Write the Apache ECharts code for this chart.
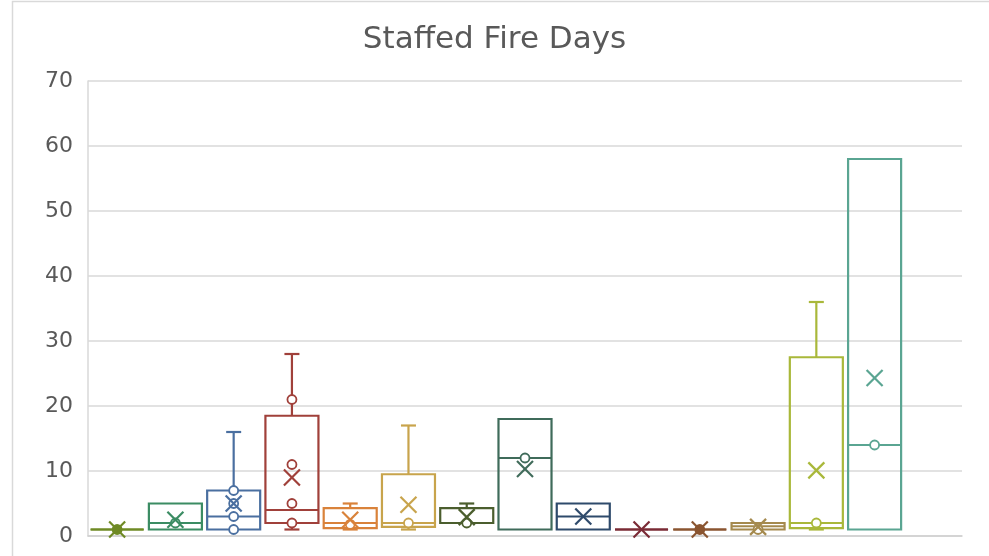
<!DOCTYPE html>
<html>
<head>
<meta charset="utf-8">
<script src="https://cdn.jsdelivr.net/npm/echarts@6/dist/echarts.min.js"></script>
<style>
  html, body { margin: 0; padding: 0; background: #fff; }
  #chart { width: 989px; height: 556px; }
</style>
</head>
<body>
<div id="chart"></div>
<script>
// ---- data ----
const categories = ['1','2','3','4','5','6','7','8','9','10','11','12','13','14',''];
const mins    = [1, 1, 1,  1,    1,   1,   2,   1,    1, 1, 1, 1,   1,    1];
const q1s     = [1, 1, 1,  2,    1.2, 1.4, 2,   1,    1, 1, 1, 1,   1.2,  1];
const medians = [1, 2, 3,  4,    2,   2,   2,   12,   3, 1, 1, 1.5, 2,    14];
const q3s     = [1, 5, 7,  18.5, 4.3, 9.5, 4.3, 18,   5, 1, 1, 2,   27.5, 58];
const maxs    = [1, 5, 16, 28,   5,   17,  5,   18,   5, 1, 1, 2,   36,   58];
const means   = [1, 2.5, 5, 9,   2.5, 4.8, 2.9, 10.3, 3, 1, 1, 1.4, 10.1, 24.3];
const points  = [[1], [2], [1, 3, 5, 7], [2, 5, 11, 21], [1.8], [2], [2], [12], [], [], [1], [1], [2], [14]];
const yTicks  = { min: 0, max: 70, interval: 10 };

// ---- styles ----
const colors = ['#6f8a25', '#3b8c63', '#4a6fa0', '#a0403a', '#d9823a', '#c8a44c', '#4b5e2e',
                '#3f6b5a', '#2e4a6b', '#7a2a35', '#8a5530', '#a58a4e', '#a9b83a', '#5aa592'];
const pointFilled = [true, false, false, false, false, false, false, false, false, false, true, false, false, false];

const boxData = mins.map((m, i) => [i, m, q1s[i], medians[i], q3s[i], maxs[i]]);
const meanData = means.map((v, i) => [i, v]);
const pointData = [];
points.forEach((arr, i) => arr.forEach(v => pointData.push({
  value: [i, v],
  itemStyle: { color: pointFilled[i] ? colors[i] : '#fff', borderColor: colors[i] }
})));

const chart = echarts.init(document.getElementById('chart'), null, { renderer: 'canvas' });
const LW = 2.2;

function renderBox(params, api) {
  const i = api.value(0);
  const c = colors[i];
  const band = api.size([1, 0])[0];
  const bw = band * 0.91;
  const capW = 15;
  const x = api.coord([i, 0])[0];
  const yMin = api.coord([i, api.value(1)])[1];
  const yQ1 = api.coord([i, api.value(2)])[1];
  const yMed = api.coord([i, api.value(3)])[1];
  const yQ3 = api.coord([i, api.value(4)])[1];
  const yMax = api.coord([i, api.value(5)])[1];
  const st = { stroke: c, lineWidth: LW, fill: null };
  const children = [];
  if (yMax < yQ3 - 0.5) {
    children.push({ type: 'line', shape: { x1: x, y1: yQ3, x2: x, y2: yMax }, style: st });
    children.push({ type: 'line', shape: { x1: x - capW / 2, y1: yMax, x2: x + capW / 2, y2: yMax }, style: st });
  }
  if (yMin > yQ1 + 0.5) {
    children.push({ type: 'line', shape: { x1: x, y1: yQ1, x2: x, y2: yMin }, style: st });
    children.push({ type: 'line', shape: { x1: x - capW / 2, y1: yMin, x2: x + capW / 2, y2: yMin }, style: st });
  }
  children.push({ type: 'rect', shape: { x: x - bw / 2, y: yQ3, width: bw, height: yQ1 - yQ3 },
    style: { stroke: c, lineWidth: LW, fill: 'rgba(255,255,255,0)' } });
  children.push({ type: 'line', shape: { x1: x - bw / 2, y1: yMed, x2: x + bw / 2, y2: yMed }, style: st });
  return { type: 'group', children };
}

function renderMean(params, api) {
  const i = api.value(0);
  const c = colors[i];
  const p = api.coord([i, api.value(1)]);
  const h = 8;
  const st = { stroke: c, lineWidth: LW, fill: null };
  return { type: 'group', children: [
    { type: 'line', shape: { x1: p[0] - h, y1: p[1] - h, x2: p[0] + h, y2: p[1] + h }, style: st },
    { type: 'line', shape: { x1: p[0] - h, y1: p[1] + h, x2: p[0] + h, y2: p[1] - h }, style: st }
  ] };
}

chart.setOption({
  backgroundColor: '#ffffff',
  animation: false,
  title: {
    text: 'Staffed Fire Days',
    left: 'center',
    top: 19,
    textStyle: { fontFamily: 'DejaVu Sans', fontSize: 31, fontWeight: 'normal', color: '#595959' }
  },
  graphic: [{
    type: 'rect', silent: true, z: -1,
    shape: { x: 12.5, y: 1.5, width: 1200, height: 800 },
    style: { fill: null, stroke: '#d9d9d9', lineWidth: 1.5 }
  }],
  grid: { left: 88, right: 27, top: 81, bottom: 20, containLabel: false },
  xAxis: {
    type: 'category',
    data: categories,
    boundaryGap: true,
    axisLine: { show: true, lineStyle: { color: '#d0d0d0', width: 1.5 } },
    axisTick: { show: false },
    axisLabel: { show: false },
    splitLine: { show: false }
  },
  yAxis: {
    type: 'value',
    min: yTicks.min, max: yTicks.max, interval: yTicks.interval,
    axisLine: { show: true, lineStyle: { color: '#d9d9d9', width: 1.5 } },
    axisTick: { show: false },
    axisLabel: { margin: 15, fontFamily: 'DejaVu Sans', fontSize: 22, color: '#595959' },
    splitLine: { lineStyle: { color: '#d9d9d9', width: 1.5 } }
  },
  series: [
    { type: 'custom', name: 'box', renderItem: renderBox, data: boxData, encode: { x: 0, y: [1, 2, 3, 4, 5] }, z: 2 },
    { type: 'scatter', name: 'points', data: pointData, symbol: 'circle', symbolSize: 9,
      itemStyle: { borderWidth: 1.8, opacity: 1 }, z: 3 },
    { type: 'custom', name: 'mean', renderItem: renderMean, data: meanData, encode: { x: 0, y: 1 }, z: 4 }
  ]
});
</script>
</body>
</html>
